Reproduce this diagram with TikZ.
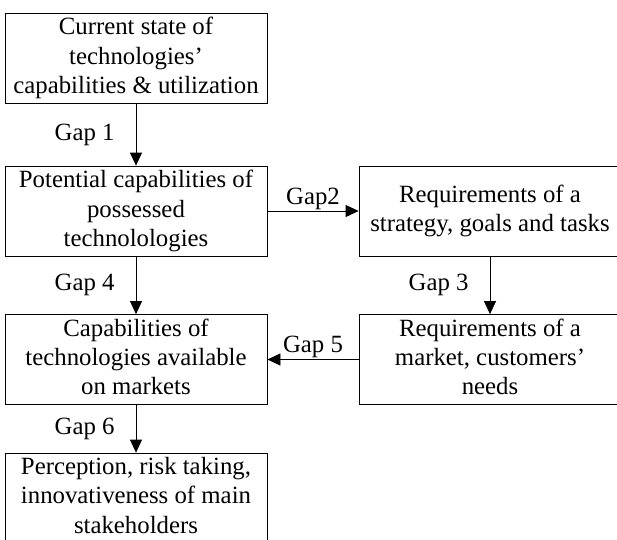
\documentclass[tikz,border=0pt]{standalone}
\usepackage{fontspec}
\setmainfont{Liberation Serif}
\usetikzlibrary{arrows.meta}
\tikzset{
  box/.style      = {draw, rectangle, line width=0.8pt, minimum width=262pt, minimum height=90pt, align=center, inner sep=0pt},
  gap/.style      = {-{Triangle[length=13pt,width=12pt]}, line width=0.8pt},
  gaplabel/.style = {inner sep=0pt}
}

\begin{document}
\begin{tikzpicture}[x=1pt, y=1pt, font=\fontsize{24.8}{29.2}\selectfont]
  \useasboundingbox (0,0) rectangle (617,-539);
  % left column
  \node[box] (current)   at (136,-58)    {Current state of\\technologies'\\capabilities \& utilization};
  \node[box] (potential) at (136,-211)   {Potential capabilities of\\possessed\\technolologies};
  \node[box] (available) at (136,-359.5) {Capabilities of\\technologies available\\on markets\vphantom{g}};
  \node[box] (stake)     at (136,-498)   {Perception, risk taking,\\innovativeness of main\\stakeholders\vphantom{g}};
  % right column
  \node[box] (strategy)  at (490,-211)   {Requirements of a\\strategy, goals and tasks};
  \node[box] (market)    at (490,-359.5) {Requirements of a\\market, customers'\\needs\vphantom{g}};
  % gaps
  \draw[gap] (current)   -- node[gaplabel, left=21pt]  {Gap 1} (potential);
  \draw[gap] (potential) -- node[gaplabel, above=1pt]  {Gap2}  (strategy);
  \draw[gap] (strategy)  -- node[gaplabel, left=21pt]  {Gap 3} (market);
  \draw[gap] (potential) -- node[gaplabel, left=21pt]  {Gap 4} (available);
  \draw[gap] (market)    -- node[gaplabel, above=1pt]  {Gap 5} (available);
  \draw[gap] (available) -- node[gaplabel, left=21pt]  {Gap 6} (stake);
\end{tikzpicture}
\end{document}
